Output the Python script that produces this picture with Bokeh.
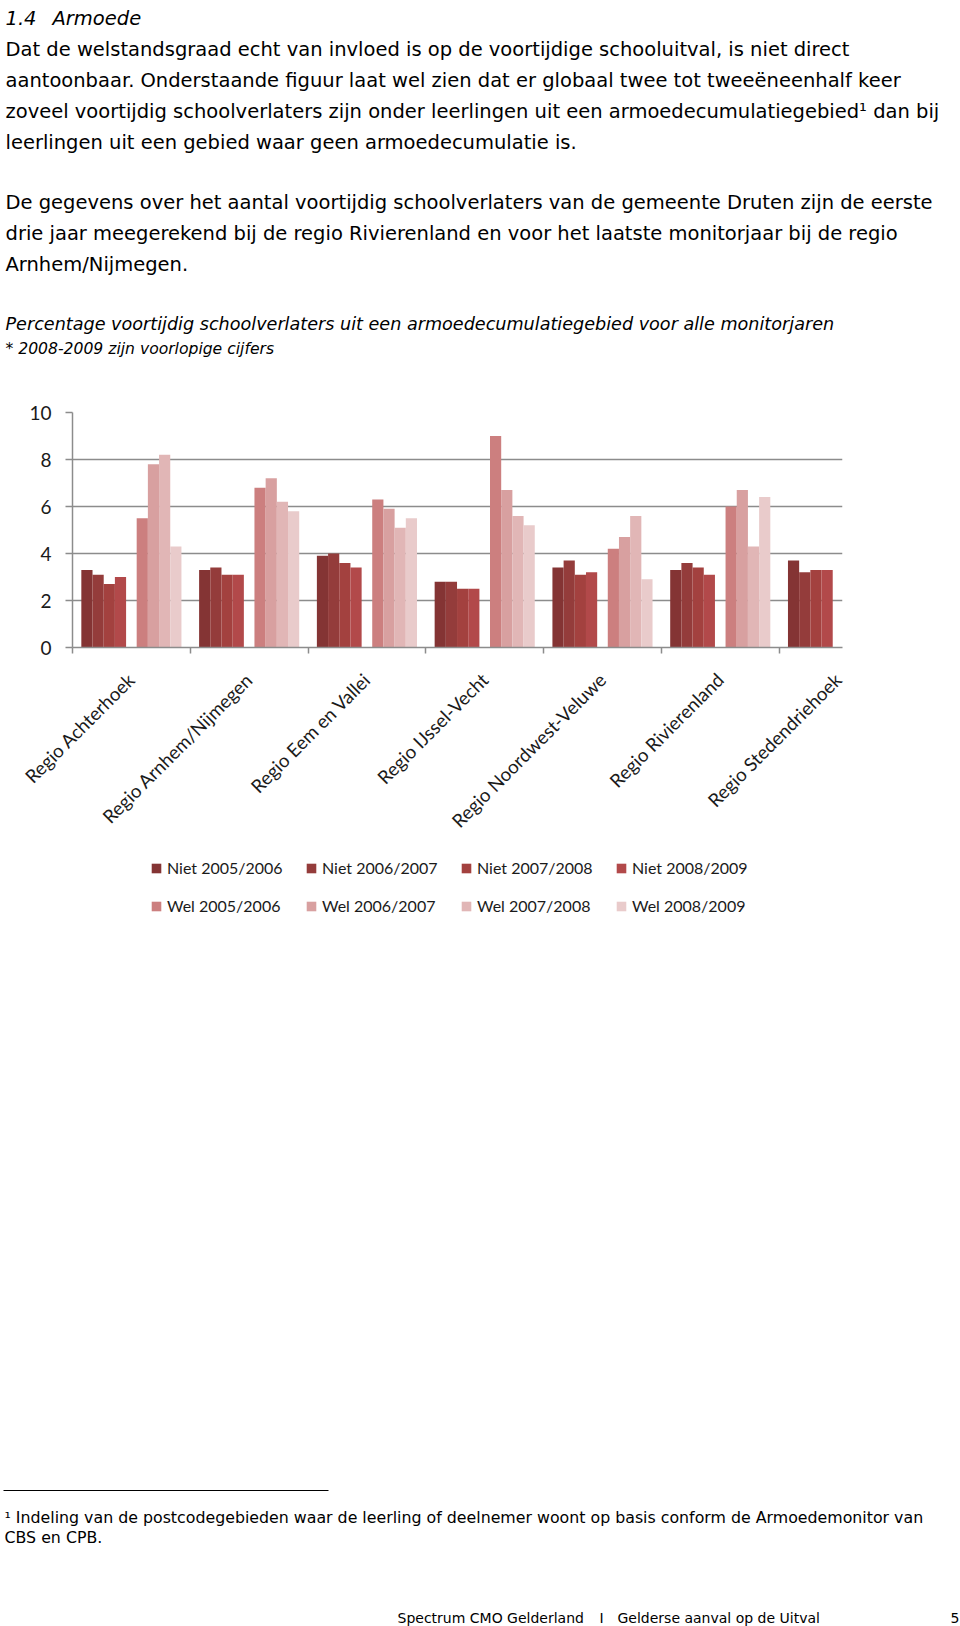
import math
import numpy as np
from bokeh.plotting import figure
from bokeh.models import Range1d, ColumnDataSource, FixedTicker, Legend, LegendItem
from bokeh.layouts import column
from bokeh.core.properties import value
from bokeh.embed import file_html
from bokeh.resources import INLINE

# ---------------- data ----------------
regions = ["Regio Achterhoek", "Regio Arnhem/Nijmegen", "Regio Eem en Vallei",
           "Regio IJssel-Vecht", "Regio Noordwest-Veluwe", "Regio Rivierenland",
           "Regio Stedendriehoek"]
years = ["2005/2006", "2006/2007", "2007/2008", "2008/2009"]

niet_2005_2006 = [3.3, 3.3, 3.9, 2.8, 3.4, 3.3, 3.7]
niet_2006_2007 = [3.1, 3.4, 4.0, 2.8, 3.7, 3.6, 3.2]
niet_2007_2008 = [2.7, 3.1, 3.6, 2.5, 3.1, 3.4, 3.3]
niet_2008_2009 = [3.0, 3.1, 3.4, 2.5, 3.2, 3.1, 3.3]
wel_2005_2006 = [5.5, 6.8, 6.3, 9.0, 4.2, 6.0, float("nan")]
wel_2006_2007 = [7.8, 7.2, 5.9, 6.7, 4.7, 6.7, float("nan")]
wel_2007_2008 = [8.2, 6.2, 5.1, 5.6, 5.6, 4.3, float("nan")]
wel_2008_2009 = [4.3, 5.8, 5.5, 5.2, 2.9, 6.4, float("nan")]

niet_colors = ["#843434", "#943c3b", "#a3413f", "#b2494a"]
wel_colors = ["#cc7f7f", "#d8a0a0", "#e1b6b6", "#e9cbcb"]

y_ticks = [0, 2, 4, 6, 8, 10]

title_num = "1.4"
title_txt = "Armoede"
body_lines = [
    "Dat de welstandsgraad echt van invloed is op de voortijdige schooluitval, is niet direct",
    "aantoonbaar. Onderstaande figuur laat wel zien dat er globaal twee tot tweeëneenhalf keer",
    "zoveel voortijdig schoolverlaters zijn onder leerlingen uit een armoedecumulatiegebied\u00b9 dan bij",
    "leerlingen uit een gebied waar geen armoedecumulatie is.",
    "De gegevens over het aantal voortijdig schoolverlaters van de gemeente Druten zijn de eerste",
    "drie jaar meegerekend bij de regio Rivierenland en voor het laatste monitorjaar bij de regio",
    "Arnhem/Nijmegen.",
]
caption = "Percentage voortijdig schoolverlaters uit een armoedecumulatiegebied voor alle monitorjaren"
caption_note = "* 2008-2009 zijn voorlopige cijfers"
footnote_lines = [
    "\u00b9 Indeling van de postcodegebieden waar de leerling of deelnemer woont op basis conform de Armoedemonitor van",
    "CBS en CPB.",
]
footer_left = "Spectrum CMO Gelderland"
footer_sep = "I"
footer_right = "Gelderse aanval op de Uitval"
page_number = "5"

W = 960
FL, FR = 72, 842          # chart frame left / right (page pixels)
BODY_FONT = "DejaVu Sans"
CHART_FONT = "Lato"


def page_fig(y_top, y_bottom):
    # frame borders equal to the chart's, ranges chosen so data units == page pixels
    f = figure(width=W, height=y_bottom - y_top, x_range=Range1d(FL, FR),
               y_range=Range1d(y_bottom, y_top), output_backend="svg",
               toolbar_location=None, min_border_left=FL, min_border_right=W - FR,
               min_border_top=0, min_border_bottom=0, x_axis_type=None,
               y_axis_type=None)
    f.outline_line_color = None
    f.xgrid.visible = False
    f.ygrid.visible = False
    return f


def put(f, xs, ys, texts, size, style="normal", color="#000000"):
    src = ColumnDataSource(dict(x=xs, y=ys, text=texts))
    r = f.text(x="x", y="y", text="text", source=src, text_font=value(BODY_FONT),
               text_font_size=value(size), text_font_style=value(style),
               text_color=color, text_align="left", text_baseline="alphabetic")
    r.level = "overlay"
    return r


# ---------------- top text ----------------
TOP_H = 370
top = page_fig(0, TOP_H)
put(top, [5], [17.5], [title_num], "19.5px", "italic")
put(top, [52], [17.5], [title_txt], "19.5px", "italic")
body_y = [48.5, 79.5, 110.5, 141.5, 201.5, 232.5, 263.5]
put(top, [5] * len(body_lines), body_y, body_lines, "19.5px")
put(top, [5], [323], [caption], "17.6px", "italic")
put(top, [5], [348], [caption_note], "15.6px", "italic")

# ---------------- chart ----------------
CH_BOTTOM = 850
FRAME_TOP, FRAME_BOTTOM = 412, 647
p = figure(width=W, height=CH_BOTTOM - TOP_H, x_range=Range1d(-0.5, 6.038),
           y_range=Range1d(0, 10), output_backend="svg", toolbar_location=None,
           min_border_left=FL, min_border_right=W - FR,
           min_border_top=FRAME_TOP - TOP_H, min_border_bottom=CH_BOTTOM - FRAME_BOTTOM)
p.outline_line_color = None
p.background_fill_color = "white"

idx = np.arange(len(regions))
bw = 0.095
groups = [
    ("Niet", [niet_2005_2006, niet_2006_2007, niet_2007_2008, niet_2008_2009], niet_colors, -0.425),
    ("Wel", [wel_2005_2006, wel_2006_2007, wel_2007_2008, wel_2008_2009], wel_colors, 0.045),
]
for name, series, colors, base in groups:
    for k, (vals, col) in enumerate(zip(series, colors)):
        src = ColumnDataSource(dict(x=idx + base + (k + 0.5) * bw, top=vals))
        p.vbar(x="x", top="top", bottom=0, width=bw, source=src,
               fill_color=col, line_color=None)

grid_col = "#8c8c8c"
p.xgrid.visible = False
p.ygrid.grid_line_color = grid_col
p.ygrid.grid_line_width = 1.5

p.yaxis.ticker = FixedTicker(ticks=y_ticks)
p.yaxis.axis_line_color = grid_col
p.yaxis.axis_line_width = 1.5
p.yaxis.major_tick_line_color = grid_col
p.yaxis.major_tick_line_width = 1.5
p.yaxis.major_tick_out = 7
p.yaxis.major_tick_in = 0
p.yaxis.minor_tick_line_color = None
p.yaxis.major_label_standoff = 14
p.yaxis.major_label_text_font = CHART_FONT
p.yaxis.major_label_text_font_size = "19px"
p.yaxis.major_label_text_color = "#1a1a1a"

p.xaxis.ticker = FixedTicker(ticks=list(range(len(regions))),
                             minor_ticks=[i - 0.5 for i in range(len(regions))])
p.xaxis.major_label_overrides = {i: r for i, r in enumerate(regions)}
p.xaxis.major_label_orientation = math.pi / 4
p.xaxis.axis_line_color = grid_col
p.xaxis.axis_line_width = 1.5
p.xaxis.major_tick_line_color = None
p.xaxis.major_tick_out = 0
p.xaxis.major_tick_in = 0
p.xaxis.minor_tick_line_color = grid_col
p.xaxis.minor_tick_line_width = 1.5
p.xaxis.minor_tick_out = 6
p.xaxis.minor_tick_in = 0
p.xaxis.major_label_standoff = 23
p.xaxis.major_label_text_font = CHART_FONT
p.xaxis.major_label_text_font_size = "18.7px"
p.xaxis.major_label_text_color = "#1a1a1a"

# ---------------- bottom: legend + footnote ----------------
BOT_TOP = CH_BOTTOM
bot = page_fig(BOT_TOP, 1626)
items = []
for name, series, colors, base in groups:
    for yr, col in zip(years, colors):
        # swatch renderer for the legend (no drawable data)
        r = bot.vbar(x=[float("nan")], top=[float("nan")], bottom=0, width=1,
                     fill_color=col, line_color=None)
        items.append(LegendItem(label=f"{name} {yr}", renderers=[r]))

legend = Legend(items=items, location=(150 - FL, 1626 - 915.5), orientation="horizontal",
                ncols=4, glyph_width=12, glyph_height=12, label_standoff=5,
                label_width=120, label_height=20, spacing=18, padding=0, margin=0,
                border_line_color=None, background_fill_alpha=0,
                label_text_font=CHART_FONT, label_text_font_size="16px",
                label_text_color="#1a1a1a")
bot.add_layout(legend)

sep = bot.segment(x0=[3], y0=[1490], x1=[328], y1=[1490], line_color="#000000", line_width=1)
sep.level = "overlay"
put(bot, [4, 4], [1517, 1537], footnote_lines, "15.8px")
put(bot, [397, 599, 617, 950], [1617, 1617, 1617, 1617],
    [footer_left, footer_sep, footer_right, page_number], "14px")

layout = column(top, p, bot, spacing=0)
open("out.html", "w").write(file_html(layout, INLINE))
